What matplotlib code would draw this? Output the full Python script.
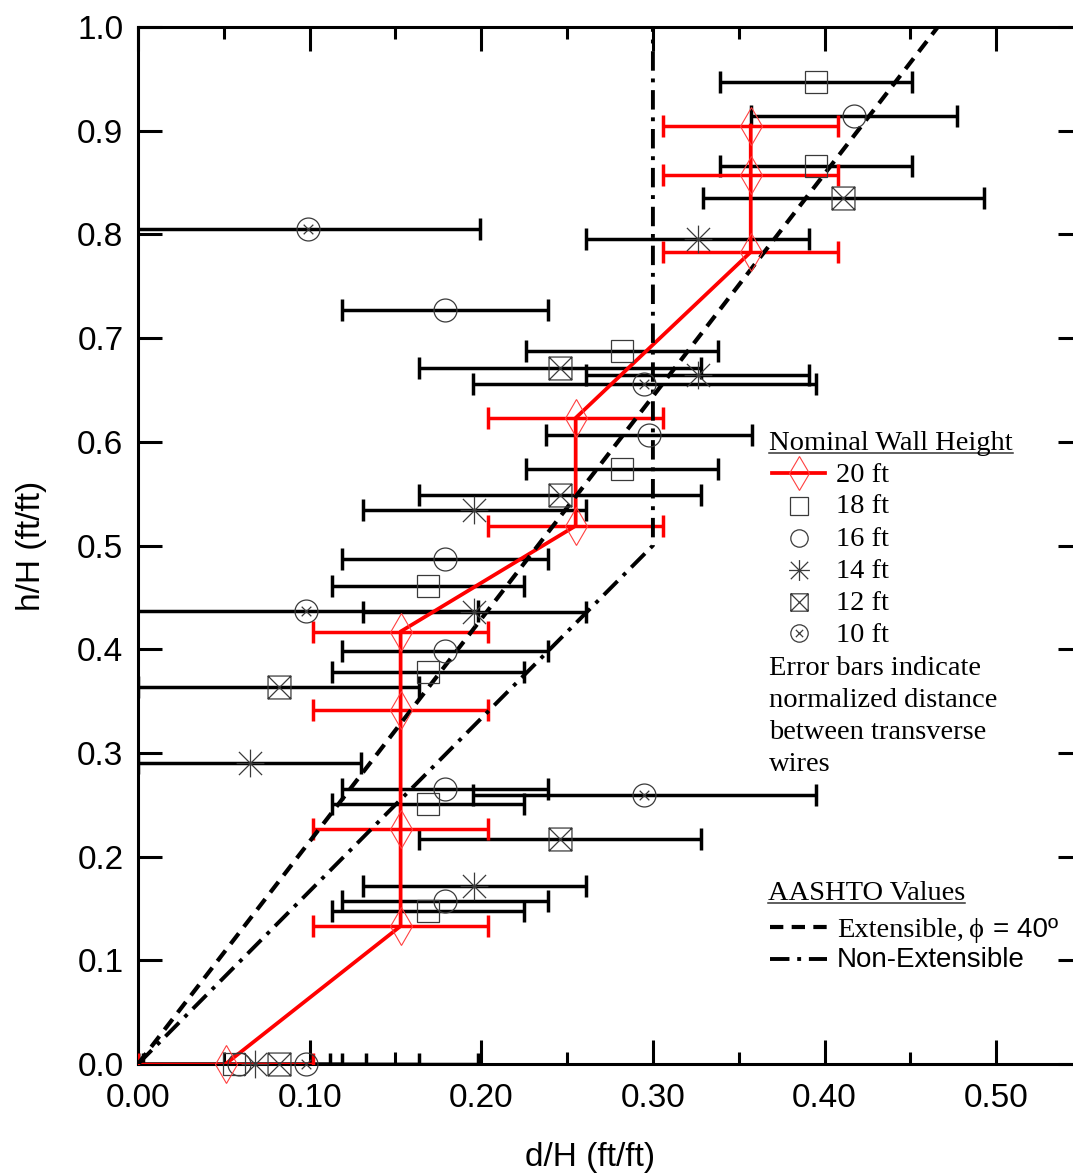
import matplotlib
matplotlib.use('Agg')
import matplotlib.pyplot as plt
from matplotlib.lines import Line2D
from matplotlib.path import Path
from matplotlib.ticker import MultipleLocator, FormatStrFormatter

# ---------------- data ----------------
h20 = [0.0, 0.133, 0.227, 0.341, 0.417, 0.519, 0.623, 0.783, 0.857, 0.905]
d20 = [0.051, 0.153, 0.153, 0.153, 0.153, 0.255, 0.255, 0.357, 0.357, 0.357]
err20 = 0.051

h18 = [0.0, 0.148, 0.251, 0.378, 0.461, 0.574, 0.688, 0.866, 0.947]
d18 = [0.056, 0.169, 0.169, 0.169, 0.169, 0.282, 0.282, 0.395, 0.395]
err18 = 0.056

h16 = [0.0, 0.157, 0.265, 0.398, 0.487, 0.607, 0.727, 0.914]
d16 = [0.059, 0.179, 0.179, 0.179, 0.179, 0.298, 0.179, 0.417]
err16 = 0.060

h14 = [0.0, 0.172, 0.290, 0.436, 0.534, 0.664, 0.796]
d14 = [0.068, 0.196, 0.065, 0.196, 0.196, 0.326, 0.326]
err14 = 0.065

h12 = [0.0, 0.217, 0.364, 0.549, 0.671, 0.835]
d12 = [0.082, 0.246, 0.082, 0.246, 0.246, 0.411]
err12 = 0.082

h10 = [0.0, 0.259, 0.437, 0.656, 0.805]
d10 = [0.098, 0.295, 0.098, 0.295, 0.099]
err10 = 0.100

ext_d = [0.0, 0.466]
ext_h = [0.0, 1.0]
nonext_d = [0.0, 0.30, 0.30]
nonext_h = [0.0, 0.50, 1.0]

series_labels = ["20 ft", "18 ft", "16 ft", "14 ft", "12 ft", "10 ft"]
xticks = [0.0, 0.1, 0.2, 0.3, 0.4, 0.5]
yticks = [0.0, 0.1, 0.2, 0.3, 0.4, 0.5, 0.6, 0.7, 0.8, 0.9, 1.0]

# ---------------- markers ----------------
box_x = Path([(-1, -1), (1, -1), (1, 1), (-1, 1), (-1, -1),
              (-1, -1), (1, 1), (-1, 1), (1, -1)],
             [Path.MOVETO, Path.LINETO, Path.LINETO, Path.LINETO, Path.CLOSEPOLY,
              Path.MOVETO, Path.LINETO, Path.MOVETO, Path.LINETO])
circ = Path.unit_circle()
xin = Path([(-0.42, -0.42), (0.42, 0.42), (-0.42, 0.42), (0.42, -0.42)],
           [Path.MOVETO, Path.LINETO, Path.MOVETO, Path.LINETO])
circle_x = Path.make_compound_path(circ, xin)
asterisk = Path([(-1, -1), (1, 1), (-1, 1), (1, -1), (0, -1.2), (0, 1.2),
                 (-1.2, 0), (1.2, 0)],
                [Path.MOVETO, Path.LINETO, Path.MOVETO, Path.LINETO,
                 Path.MOVETO, Path.LINETO, Path.MOVETO, Path.LINETO])

plt.rcParams['font.family'] = ['Liberation Sans', 'DejaVu Sans']

W, H = 1073, 1175
fig = plt.figure(figsize=(W / 100, H / 100), dpi=100)
ax = fig.add_axes([138 / W, 1 - 1064 / H, 944 / W, 1037 / H])
ax.set_xlim(0, 0.55)
ax.set_ylim(0, 1.0)

EC = '#3a3a3a'
BLW = 2.5
black_series = [
    (d18, h18, err18, 's', 16.5),
    (d16, h16, err16, 'o', 16.5),
    (d14, h14, err14, asterisk, 20),
    (d12, h12, err12, box_x, 16.5),
    (d10, h10, err10, circle_x, 16.5),
]
for d, h, e, m, ms in black_series:
    ax.errorbar(d, h, xerr=e, fmt='none', ecolor='black', elinewidth=BLW,
                capsize=8, capthick=BLW, zorder=2)
for d, h, e, m, ms in black_series:
    ax.plot(d, h, linestyle='none', marker=m, markersize=ms,
            markerfacecolor='none', markeredgecolor=EC, markeredgewidth=0.9,
            zorder=5, clip_on=False)

# 20 ft series (red)
ax.errorbar(d20, h20, xerr=err20, fmt='none', ecolor='red', elinewidth=BLW,
            capsize=8, capthick=BLW, zorder=3)
ax.plot(d20, h20, color='red', lw=2.7, zorder=3.5)
ax.plot(d20, h20, linestyle='none', marker='d', markersize=19.5,
        markerfacecolor='none', markeredgecolor='#ff4040', markeredgewidth=0.8,
        zorder=5, clip_on=False)

# AASHTO lines
ax.plot(ext_d, ext_h, color='black', lw=3.0, linestyle=(0, (3.2, 2)), zorder=4)
ax.plot(nonext_d, nonext_h, color='black', lw=2.8,
        linestyle=(0, (5.0, 2.0, 1.0, 2.0)), zorder=4)

# axes styling
for s in ax.spines.values():
    s.set_linewidth(2.2)
ax.set_xticks(xticks)
ax.set_yticks(yticks)
ax.xaxis.set_minor_locator(MultipleLocator(0.05))
ax.xaxis.set_major_formatter(FormatStrFormatter('%.2f'))
ax.yaxis.set_major_formatter(FormatStrFormatter('%.1f'))
ax.tick_params(which='both', direction='in', top=True, right=True, width=2.2,
               labelsize=24)
ax.tick_params(which='major', length=17)
ax.tick_params(which='minor', length=8.5)
ax.tick_params(axis='x', which='major', pad=14)
ax.tick_params(axis='y', which='major', pad=10.5)

ax.set_xlabel('d/H (ft/ft)', fontsize=24)
ax.set_ylabel('h/H (ft/ft)', fontsize=24)
ax.xaxis.set_label_coords((590 - 138) / 944, (1064 - 1142) / 1037)
ax.yaxis.set_label_coords((47 - 138) / 944, 0.5)

# ---------------- custom legend ----------------
def fp(px, py):
    return px / W, 1 - py / H

SERIF = ['Liberation Serif', 'DejaVu Serif']
SANS = ['Liberation Sans', 'DejaVu Sans']
TS = 20.5

t_nom = fig.text(*fp(769, 450), 'Nominal Wall Height', family=SERIF,
                 fontsize=TS, va='baseline', ha='left')
rows_base = [482, 513, 546, 578, 610, 642]
rows_mark = [473, 506, 538, 570, 602, 633]
for lab, yb in zip(series_labels, rows_base):
    fig.text(*fp(836, yb), lab, family=SERIF, fontsize=TS, va='baseline',
             ha='left')

mx = 799
# 20 ft sample
x0, y0 = fp(772, rows_mark[0])
x1, _ = fp(825, rows_mark[0])
fig.add_artist(Line2D([x0, x1], [y0, y0], color='red', lw=2.7,
                      transform=fig.transFigure))
fig.add_artist(Line2D([fp(mx, 0)[0]], [y0], marker='d', markersize=17,
                      markerfacecolor='none', markeredgecolor='#ff4040',
                      markeredgewidth=0.8, transform=fig.transFigure))
leg_markers = [('s', 12.5), ('o', 12.5), (asterisk, 15), (box_x, 12.5),
               (circle_x, 12.5)]
for (m, ms), ym in zip(leg_markers, rows_mark[1:]):
    xx, yy = fp(mx, ym)
    fig.add_artist(Line2D([xx], [yy], marker=m, markersize=ms,
                          markerfacecolor='none', markeredgecolor=EC,
                          markeredgewidth=0.9, transform=fig.transFigure))

note = ["Error bars indicate", "normalized distance",
        "between transverse", "wires"]
for txt, yb in zip(note, [675, 707, 739, 771]):
    fig.text(*fp(769, yb), txt, family=SERIF, fontsize=TS, va='baseline',
             ha='left')

t_aas = fig.text(*fp(768, 900), 'AASHTO Values', family=SERIF, fontsize=TS,
                 va='baseline', ha='left')
# extensible sample
x0, y0 = fp(770, 927)
x1, _ = fp(827, 927)
fig.add_artist(Line2D([x0, x1], [y0, y0], color='black', lw=3.0,
                      linestyle=(0, (3.2, 2)), transform=fig.transFigure))
fig.text(*fp(837, 937), 'Extensible,', family=SERIF, fontsize=TS,
         va='baseline', ha='left')
fig.text(*fp(969, 937), '\u03d5', family=SERIF, fontsize=TS, va='baseline',
         ha='left')
fig.text(*fp(993, 937), '= 40\u00ba', family=SANS, fontsize=20, va='baseline',
         ha='left')
# non-extensible sample
x0, y0 = fp(770, 959)
x1, _ = fp(827, 959)
fig.add_artist(Line2D([x0, x1], [y0, y0], color='black', lw=2.8,
                      linestyle=(0, (5.0, 2.0, 1.0, 2.0)),
                      transform=fig.transFigure))
fig.text(*fp(837, 967), 'Non-Extensible', family=SANS, fontsize=20,
         va='baseline', ha='left')

# underlines
fig.canvas.draw()
r = fig.canvas.get_renderer()
for t, yb in [(t_nom, 453), (t_aas, 903)]:
    bb = t.get_window_extent(r)
    yy = 1 - yb / H
    fig.add_artist(Line2D([bb.x0 / W, bb.x1 / W], [yy, yy], color='#333333',
                          lw=1.1, transform=fig.transFigure))

fig.savefig('out.png', dpi=100)
